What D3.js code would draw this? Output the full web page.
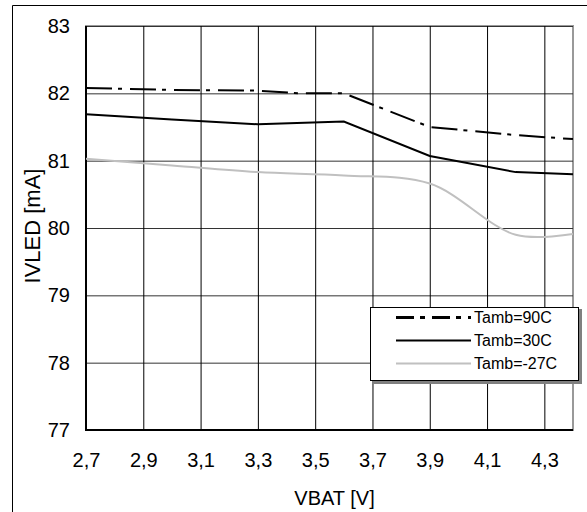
<!DOCTYPE html>
<html>
<head>
<meta charset="utf-8">
<script src="https://cdn.jsdelivr.net/npm/d3@7"></script>
<style>
  body { margin: 0; background: #fff; }
  svg { display: block; font-family: "Liberation Sans", Arial, sans-serif; }
</style>
</head>
<body>
<div id="chart"></div>
<script>
// data
var vbat90 = [2.7, 3.0, 3.3, 3.45, 3.6, 3.9, 4.2, 4.4];
var ivled90 = [82.08, 82.05, 82.04, 82.0, 82.0, 81.5, 81.38, 81.32];

var vbat30 = [2.7, 3.0, 3.3, 3.6, 3.9, 4.2, 4.4];
var ivled30 = [81.69, 81.61, 81.54, 81.58, 81.07, 80.83, 80.8];

var vbatM27 = [2.7, 3.0, 3.3, 3.6, 3.9, 4.2, 4.4];
var ivledM27 = [81.03, 80.93, 80.83, 80.78, 80.66, 79.9, 79.91];

var seriesNames = ["Tamb=90C", "Tamb=30C", "Tamb=-27C"];
var xTicks = [2.7, 2.9, 3.1, 3.3, 3.5, 3.7, 3.9, 4.1, 4.3];
var yTicks = [77, 78, 79, 80, 81, 82, 83];

var W = 587, H = 512;
var margin = {top: 26, right: 14, bottom: 82, left: 86},
    width = W - margin.left - margin.right,
    height = H - margin.top - margin.bottom;

var svg = d3.select("#chart")
  .append("svg")
    .attr("width", W)
    .attr("height", H);

// outer frame
svg.append("path")
  .attr("d", "M12.5," + H + "V5.5H" + W)
  .attr("fill", "none")
  .attr("stroke", "#000")
  .attr("stroke-width", 1);

var g = svg.append("g")
  .attr("transform", "translate(" + margin.left + "," + margin.top + ")");

var x = d3.scaleLinear().domain([2.7, 4.4]).range([0, width]);
var y = d3.scaleLinear().domain([77, 83]).range([height, 0]);

// plot area border (grey top/right)
g.append("rect")
  .attr("width", width)
  .attr("height", height)
  .attr("fill", "#fff")
  .attr("stroke", "#999")
  .attr("stroke-width", 2);

// horizontal grid
g.append("g")
  .call(d3.axisLeft(y).tickValues(yTicks).tickSize(-width).tickFormat(""))
  .call(function(s) { s.select(".domain").remove(); })
  .selectAll("line").attr("stroke", "#333");

// vertical grid
g.append("g")
  .attr("transform", "translate(0," + height + ")")
  .call(d3.axisBottom(x).tickValues(xTicks).tickSizeInner(-height).tickFormat(""))
  .call(function(s) { s.select(".domain").remove(); })
  .selectAll("line").attr("stroke", "#000");

// left & bottom axis lines
g.append("path")
  .attr("d", "M0,0V" + height + "H" + width)
  .attr("fill", "none")
  .attr("stroke", "#000")
  .attr("stroke-width", 2);

var comma = function(d) { return d3.format(".1f")(d).replace(".", ","); };

g.append("g")
  .attr("transform", "translate(0," + height + ")")
  .call(d3.axisBottom(x).tickValues(xTicks).tickSize(0).tickPadding(23).tickFormat(comma))
  .call(function(s) { s.select(".domain").remove(); })
  .selectAll("text")
    .attr("font-size", 20)
    .attr("font-family", "Liberation Sans, Arial, sans-serif")
    .attr("fill", "#000");

g.append("g")
  .call(d3.axisLeft(y).tickValues(yTicks).tickSize(0).tickPadding(16).tickFormat(d3.format("d")))
  .call(function(s) { s.select(".domain").remove(); })
  .selectAll("text")
    .attr("font-size", 20)
    .attr("font-family", "Liberation Sans, Arial, sans-serif")
    .attr("fill", "#000");

// axis titles
svg.append("text")
  .attr("x", margin.left + width / 2 + 5)
  .attr("y", 505)
  .attr("text-anchor", "middle")
  .attr("font-size", 20)
  .text("VBAT [V]");

svg.append("text")
  .attr("transform", "translate(40,226) rotate(-90)")
  .attr("text-anchor", "middle")
  .attr("font-size", 22)
  .text("IVLED [mA]");

// series
var styles = [
  {stroke: "#000", width: 2, dash: "26,6,4,8", curve: d3.curveLinear},
  {stroke: "#000", width: 2, dash: null, curve: d3.curveLinear},
  {stroke: "#c0c0c0", width: 2, dash: null, curve: d3.curveCatmullRom}
];
var series = [
  d3.zip(vbat90, ivled90),
  d3.zip(vbat30, ivled30),
  d3.zip(vbatM27, ivledM27)
];

series.forEach(function(pts, i) {
  var line = d3.line()
    .x(function(d) { return x(d[0]); })
    .y(function(d) { return y(d[1]); })
    .curve(styles[i].curve);
  g.append("path")
    .datum(pts)
    .attr("d", line)
    .attr("fill", "none")
    .attr("stroke", styles[i].stroke)
    .attr("stroke-width", styles[i].width)
    .attr("stroke-dasharray", styles[i].dash);
});

// legend
var lg = svg.append("g").attr("transform", "translate(370,307)");
lg.append("rect")
  .attr("x", 2).attr("y", 2)
  .attr("width", 210).attr("height", 75)
  .attr("fill", "#808080");
lg.append("rect")
  .attr("x", 0.5).attr("y", 0.5)
  .attr("width", 208).attr("height", 73)
  .attr("fill", "#fff")
  .attr("stroke", "#000");

seriesNames.forEach(function(name, i) {
  var ly = 10.5 + i * 23;
  lg.append("line")
    .attr("x1", 26).attr("x2", 101)
    .attr("y1", ly).attr("y2", ly)
    .attr("stroke", styles[i].stroke)
    .attr("stroke-width", i === 0 ? 3 : 2)
    .attr("stroke-dasharray", i === 0 ? "18,6,5,7" : null);
  lg.append("text")
    .attr("x", 104)
    .attr("y", ly)
    .attr("dy", "0.35em")
    .attr("font-size", 16)
    .text(name);
});
</script>
</body>
</html>
